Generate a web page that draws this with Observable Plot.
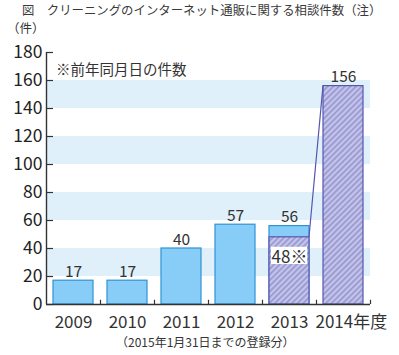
<!DOCTYPE html>
<html><head><meta charset="utf-8">
<script src="https://cdn.jsdelivr.net/npm/d3@7"></script>
<script src="https://cdn.jsdelivr.net/npm/@observablehq/plot@0.6"></script>
<style>
body{margin:0;background:#fff;font-family:"Noto Sans CJK JP",sans-serif;}
#wrap{position:relative;width:399px;height:355px;overflow:hidden;background:#fff}
#chart{position:absolute;left:0;top:0}
.t{position:absolute;white-space:nowrap;color:#333;line-height:1}
</style></head><body>
<div id="wrap">
<div id="chart"></div>
<div class="t" style="left:22px;top:3.5px;font-size:12.4px;color:#3a3a3a;">図　クリーニングのインターネット通販に関する相談件数（注）</div>
<div class="t" style="left:7px;top:22px;font-size:12.5px;">（件）</div>
<div class="t" style="left:56px;top:62px;font-size:14.5px;">※前年同月日の件数</div>
<div class="t" style="left:116px;top:336px;font-size:12px;">（2015年1月31日までの登録分）</div>
</div>
<script>
const years = ["2009", "2010", "2011", "2012", "2013", "2014"];
const xLabels = ["2009", "2010", "2011", "2012", "2013", "2014年度"];
const counts = [17, 17, 40, 57, 56, 156];
const hatchedYears = ["2014"];
const prevYear2013 = 48;
const prevLabel = "48※";
const yTicks = [0, 20, 40, 60, 80, 100, 120, 140, 160, 180];
const bandRanges = [[20, 40], [60, 80], [100, 120], [140, 160]];

const rows = years.map((y, i) => ({year: y, count: counts[i], label: xLabels[i]}));
const solidRows = rows.filter(d => !hatchedYears.includes(d.year));
const hatchRows = rows.filter(d => hatchedYears.includes(d.year));
const prevRows = [{year: "2013", count: prevYear2013}];
const lastYear = years[years.length - 1];

const BLUE = "#87cdf7", BLUE_S = "#2f93d6", HATCH_S = "#5656b0", AX = "#333";

const plot = Plot.plot({
  width: 399, height: 355,
  marginTop: 52, marginBottom: 51, marginLeft: 46, marginRight: 29,
  style: {background: "transparent", fontFamily: '"Noto Sans CJK JP", sans-serif', overflow: "visible"},
  x: {domain: years, paddingInner: 0.26, paddingOuter: 0.13, label: null},
  y: {domain: [0, 180], label: null},
  marks: [
    Plot.rect(bandRanges, {y1: d => d[0], y2: d => d[1], fill: "#dff0fb"}),
    Plot.barY(solidRows, {x: "year", y: "count", fill: BLUE, stroke: BLUE_S, strokeWidth: 1.2}),
    Plot.barY(hatchRows, {x: "year", y: "count", fill: "url(#hatch)", stroke: HATCH_S, strokeWidth: 1.2}),
    Plot.barY(prevRows, {x: "year", y: "count", fill: "url(#hatch)", stroke: HATCH_S, strokeWidth: 1.2}),
    Plot.barY(prevRows, {x: "year", y: "count", fill: "white", insetTop: 10, insetBottom: 40, insetLeft: 2, insetRight: 2}),
    Plot.text(rows, {x: "year", y: "count", text: d => String(d.count), lineAnchor: "bottom", dy: -4, fontSize: 15.5, fill: "#333"}),
    Plot.text(prevRows, {x: "year", y: "count", text: () => prevLabel, lineAnchor: "bottom", dy: 26, fontSize: 17, fill: "#333"}),
    Plot.ruleY([0], {stroke: AX, strokeWidth: 1.4}),
    Plot.ruleX([years[0]], {dx: -27, stroke: AX, strokeWidth: 1.4}),
    Plot.tickY(yTicks, {y: d => d, insetRight: 317, stroke: AX, strokeWidth: 1.2}),
    Plot.ruleX(years, {x: d => d, dx: 27, y1: 0, y2: 3, stroke: AX, strokeWidth: 1.2}),
    Plot.axisY({ticks: yTicks, tickSize: 0, tickPadding: 4, fontSize: 17.5, fill: "#222"}),
    Plot.axisX(years.slice(0, -1), {tickSize: 0, tickPadding: 11, fontSize: 17, fill: "#333", tickFormat: d => xLabels[years.indexOf(d)]}),
    Plot.text(rows.filter(d => d.year === lastYear), {x: "year", y: 0, text: "label", textAnchor: "start", lineAnchor: "top", dx: -28, dy: 11, fontSize: 17, fill: "#333"})
  ]
});

const svg = d3.select(plot);
const defs = svg.insert("defs", ":first-child");
const pat = defs.append("pattern").attr("id", "hatch").attr("patternUnits", "userSpaceOnUse")
  .attr("width", 4).attr("height", 4).attr("patternTransform", "rotate(45)");
pat.append("rect").attr("width", 4).attr("height", 4).attr("fill", "#c4c4ea");
pat.append("rect").attr("width", 1.6).attr("height", 4).attr("fill", "#9595cf");

const xs = plot.scale("x"), ys = plot.scale("y");
const x1 = xs.apply("2013") + xs.bandwidth, x2 = xs.apply("2014");
svg.append("line")
  .attr("x1", x1).attr("y1", ys.apply(prevYear2013))
  .attr("x2", x2).attr("y2", ys.apply(counts[years.indexOf("2014")]))
  .attr("stroke", HATCH_S).attr("stroke-width", 1.2);

document.getElementById("chart").appendChild(plot);
</script>
</body></html>
